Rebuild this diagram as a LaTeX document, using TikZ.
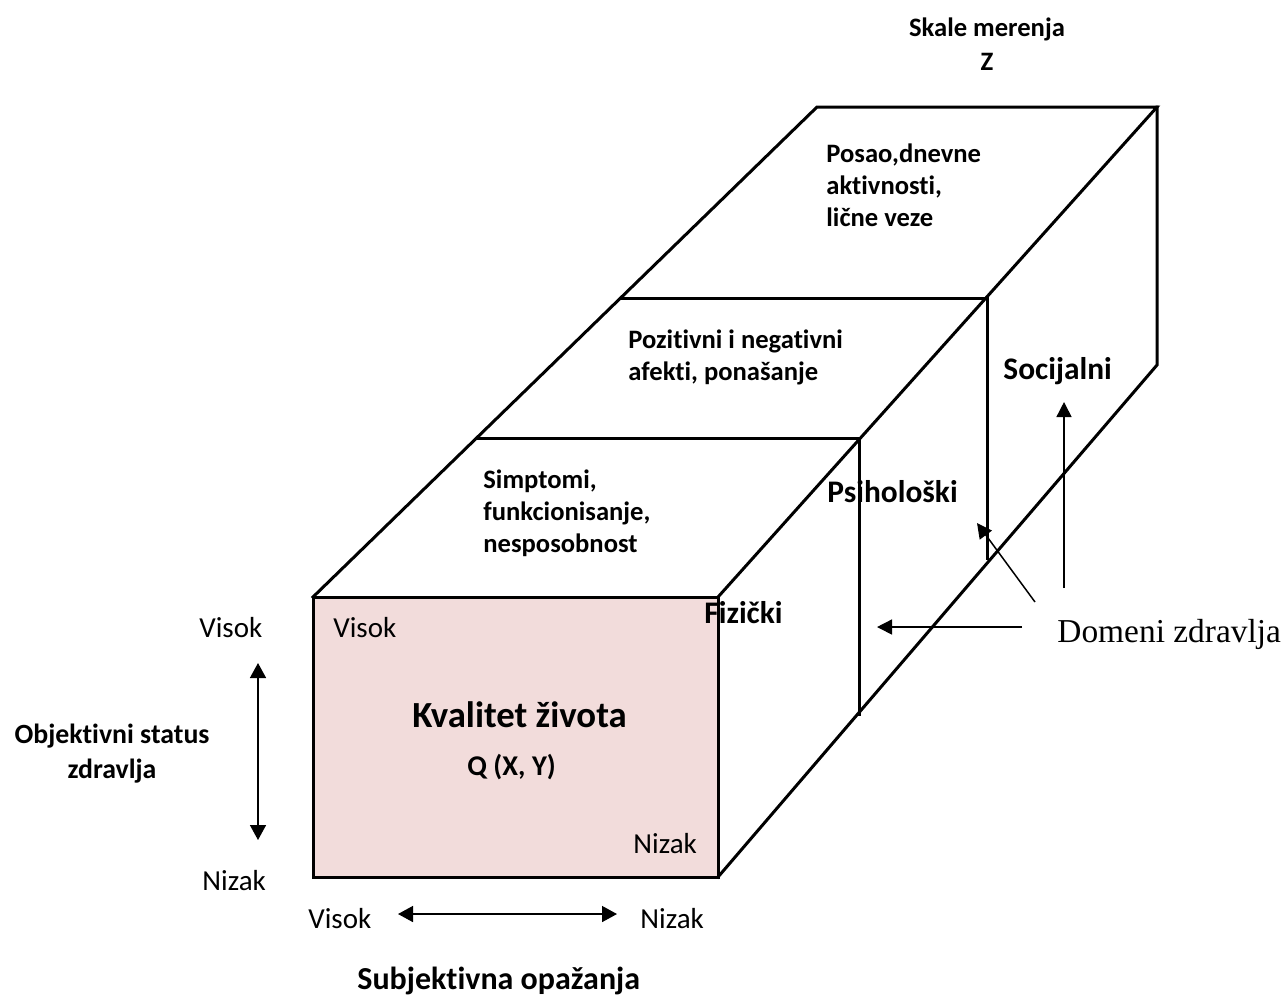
\documentclass[tikz,border=0pt]{standalone}
\usepackage{fontspec}
\setmainfont{Carlito}[Ligatures=NoCommon]
\newfontfamily\domfont{Liberation Serif}
\usetikzlibrary{arrows.meta}
\definecolor{facepink}{RGB}{242,220,219}
\newcommand{\mlines}[1]{\begin{tabular}[t]{@{}l@{}}#1\end{tabular}}
\newcommand{\clines}[1]{\begin{tabular}[t]{@{}c@{}}#1\end{tabular}}
\begin{document}
\begin{tikzpicture}[x=0.5pt,y=-0.5pt,
  boxedge/.style={line width=1.5pt, line join=miter, line cap=rect},
  arr/.style={line width=0.75pt, -{Triangle[length=7.5pt,width=7.5pt]}},
  darr/.style={line width=0.75pt, {Triangle[length=7.5pt,width=8pt]}-{Triangle[length=7.5pt,width=8pt]}},
  lbl/.style={inner sep=0pt, anchor=base west},
  facetext/.style={lbl, font=\bfseries\fontsize{13.3}{16}\selectfont},
  domlbl/.style={lbl, font=\bfseries\fontsize{15.7}{19}\selectfont},
  scalelbl/.style={lbl, font=\fontsize{14.5}{17}\selectfont},
]
\useasboundingbox (0,0) rectangle (1283,998);
% box corners
\coordinate (A) at (313,597);
\coordinate (B) at (718,597);
\coordinate (C) at (718,877);
\coordinate (D) at (313,877);
\coordinate (E) at (817,107);
\coordinate (F) at (1157,107);
\coordinate (G) at (1157,365);
% front face
\filldraw[fill=facepink, boxedge] (A) rectangle (C);
% outline
\draw[boxedge] (A) -- (E) -- (F) -- (B);
\draw[boxedge] (F) -- (G) -- (C);
% segment divisions
\draw[boxedge] (478,438) -- (859,438) -- (859,714);
\draw[boxedge] (621,298) -- (987,298) -- (987,558);
% face texts
\node[facetext] (posao) at (826,162) {\mlines{Posao,dnevne\\aktivnosti,\\lične veze}};
\node[facetext] (pozit) at (628,348) {\mlines{Pozitivni i negativni\\afekti, ponašanje}};
\node[facetext] (simpt) at (483,488) {\mlines{Simptomi,\\funkcionisanje,\\nesposobnost}};
% title
\node[facetext, anchor=base] (skale) at (987,36) {Skale merenja};
\node[facetext, anchor=base] (skaleZ) at (987,70) {Z};
% domain labels
\node[domlbl] (soc) at (1003,379) {Socijalni};
\node[domlbl] (psi) at (827,502) {Psihološki};
\node[domlbl] (fiz) at (704,623) {Fizički};
\node[lbl, font=\domfont\fontsize{16.7}{20}\selectfont] (dom) at (1057,642) {Domeni zdravlja};
% front face texts
\node[lbl, font=\bfseries\fontsize{18.4}{22}\selectfont] (kval) at (412,727) {Kvalitet života};
\node[lbl, font=\bfseries\fontsize{14.3}{17}\selectfont] (q) at (467,775) {Q (X, Y)};
\node[scalelbl] (vin) at (333,637) {Visok};
\node[scalelbl] (nin) at (633,853) {Nizak};
% axes
\node[scalelbl] (vleft) at (199,637) {Visok};
\node[scalelbl] (nleft) at (202,890) {Nizak};
\node[scalelbl] (vbot) at (308,928) {Visok};
\node[scalelbl] (nbot) at (640,928) {Nizak};
\node[lbl, anchor=base, font=\bfseries\fontsize{13.9}{17.5}\selectfont] (obj) at (112,743) {\clines{Objektivni status\\zdravlja}};
\node[lbl, font=\bfseries\fontsize{16}{19}\selectfont] (subj) at (357,989) {Subjektivna opažanja};
% arrows
\coordinate (ovt) at (258,663);
\coordinate (ovb) at (258,840);
\draw[darr] (ovt) -- (ovb);
\coordinate (shl) at (398,914);
\coordinate (shr) at (617,914);
\draw[darr] (shl) -- (shr);
\coordinate (d1s) at (1022,627);
\coordinate (d1e) at (877,627);
\draw[arr] (d1s) -- (d1e);
\coordinate (d2s) at (1035,602);
\coordinate (d2e) at (977,523);
\draw[arr] (d2s) -- (d2e);
\coordinate (d3s) at (1064,588);
\coordinate (d3e) at (1064,402);
\draw[arr] (d3s) -- (d3e);
\end{tikzpicture}
\end{document}
